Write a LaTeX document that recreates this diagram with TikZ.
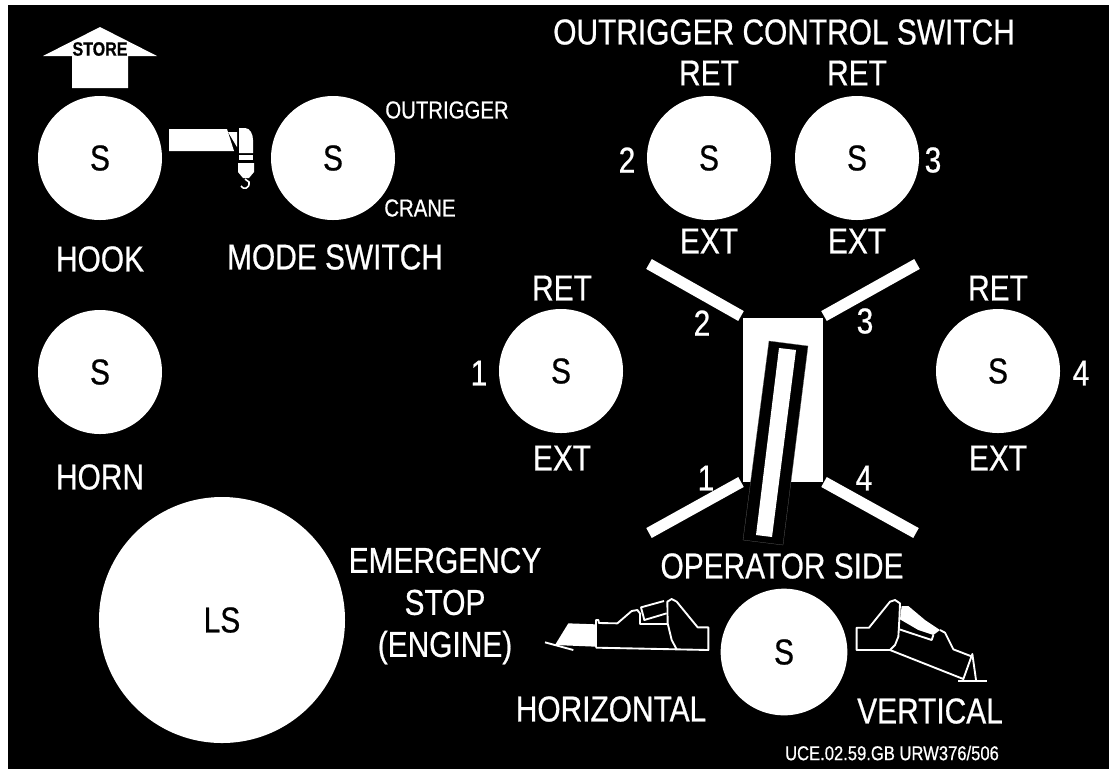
\documentclass[tikz,border=0pt]{standalone}
\usepackage{fontspec}
\setmainfont[FakeStretch=0.83,FakeBold=0.6]{Liberation Sans}
\def\knobsize{93pt}

\begin{document}
\begin{tikzpicture}[x=0.75pt,y=-0.75pt]
  \tikzstyle{knob}=[circle,fill=white,text=black,minimum size=\knobsize,inner sep=0pt,font=\fontsize{27}{30}\selectfont]
  \tikzstyle{lbl}=[text=white,inner sep=0pt,font=\fontsize{27}{31.5}\selectfont,align=center]
  \tikzstyle{smalllbl}=[text=white,inner sep=0pt,font=\fontsize{18.4}{22}\selectfont]
  \tikzstyle{bar}=[draw=white,line width=8.5pt]
  \tikzstyle{outline}=[draw=white,line width=1.4pt,line join=round]

  \useasboundingbox (0,0) rectangle (1109,769);
  \fill[white] (0,0) rectangle (1109,769);
  \fill[black] (8,5) rectangle (1109,769);

  \foreach \name / \x / \y in {hook/100/158,mode/333/158,out2/709/158,out3/857/158,out1/561/371,out4/998/371,horn/100/372}
    \node[knob] (\name) at (\x,\y) {S};
  \node[knob,minimum size=184.5pt] (stop) at (222,620) {LS};
  \node[knob,minimum size=95pt] (jib) at (784,652) {S};

  \foreach \name / \x in {out2/709,out3/857}{
    \node[lbl] (ret-\name) at (\x,73) {RET};
    \node[lbl] (ext-\name) at (\x,241) {EXT};
  }
  \foreach \name / \x in {out1/562,out4/998}{
    \node[lbl] (ret-\name) at (\x,288) {RET};
    \node[lbl] (ext-\name) at (\x,458) {EXT};
  }
  \node[lbl] (num-2) at (627,160) {2};
  \node[lbl] (num-3) at (933,160) {3};
  \node[lbl] (num-1) at (479,373) {1};
  \node[lbl] (num-4) at (1081,373) {4};

  \node[lbl] (title) at (784,32) {OUTRIGGER CONTROL SWITCH};
  \node[lbl] (hook-lbl) at (100,259) {HOOK};
  \node[lbl] (mode-lbl) at (335,257) {MODE SWITCH};
  \node[lbl] (horn-lbl) at (100,477) {HORN};
  \node[lbl] (side-lbl) at (782,566) {OPERATOR SIDE};
  \node[lbl] (stop-lbl) at (445,606) {EMERGENCY\\STOP\\(ENGINE)};
  \node[lbl] (horiz-lbl) at (611,709) {HORIZONTAL};
  \node[lbl] (vert-lbl) at (930,711) {VERTICAL};
  \node[smalllbl] (outrigger-lbl) at (447,110) {OUTRIGGER};
  \node[smalllbl] (crane-lbl) at (420,208) {CRANE};
  \node[smalllbl,font=\fontsize{15}{18}\selectfont] (code-lbl) at (892,753) {UCE.02.59.GB URW376/506};

  \fill[white] (100,27) -- (157,56) -- (128,56) -- (128,88) -- (72,88) -- (72,56) -- (43,56) -- cycle;
  \node[text=black,inner sep=0pt,font=\bfseries\fontsize{14.5}{16}\selectfont] (store) at (100,49) {STORE};

  \fill[white] (169,129) -- (227,129) -- (234,151) -- (169,151) -- cycle;
  \fill[white] (228,132) -- (237,132) -- (237,147) -- cycle;
  \fill[white] (239,128) -- (245,128) .. controls (250,128) and (253,134) .. (253,140) -- (253,153) -- (239,153) -- cycle;
  \fill[white] (239,155) rectangle (253,160);
  \fill[white] (238,163) -- (254,163) -- (254,172) -- (249,178) -- (243,178) -- (238,172) -- cycle;
  \draw[white,line width=1.2pt] (245,179) -- (249,182) .. controls (250,189) and (243,190) .. (241,186);

  \draw[bar] (649,264) -- (741,316);
  \draw[bar] (917,264) -- (824,316);
  \draw[bar] (649,533) -- (741,482);
  \draw[bar] (916,533) -- (824,482);
  \node[lbl] (bar-2) at (702,323) {2};
  \node[lbl] (bar-3) at (865,321) {3};
  \node[lbl] (bar-1) at (706,478) {1};
  \node[lbl] (bar-4) at (864,478) {4};

  \fill[white] (743,318) rectangle (823,482);
  \filldraw[fill=black,draw=black!60,line width=0.2pt] (769,341) -- (808,346) -- (783,545) -- (743,540) -- cycle;
  \fill[white] (779,348) -- (796,350) -- (772,537) -- (756,535) -- cycle;

  \begin{scope}[shift={(530,580)},x=0.25pt,y=-0.25pt]
    \fill[white] (115,130) -- (198,133) -- (198,200) -- (75,195) -- cycle;
    \draw[outline] (45,187) -- (130,210);
    \draw[outline] (198,203) -- (198,120) -- (205,120) -- (207,129) -- (262,130) -- (305,93) -- (322,90) -- (332,103);
    \draw[outline] (198,203) -- (440,208) -- (535,210) -- (535,142) -- (503,142) -- (440,65) -- (425,57) -- (412,65) -- (413,130) -- (425,180) -- (440,208);
    \draw[outline] (330,100) -- (330,132) -- (413,132);
    \draw[outline] (402,63) -- (333,82) -- (343,120) -- (410,100);
  \end{scope}

  \begin{scope}[shift={(840,580)},x=0.25pt,y=-0.25pt]
    \fill[white] (185,78) -- (205,78) -- (255,120) -- (300,150) -- (280,165) -- (235,150) -- (180,118) -- cycle;
    \draw[outline] (50,143) -- (87,143) -- (150,65) -- (165,60) -- (180,70) -- (178,118) -- (175,170) -- (165,195) -- (150,210) -- (50,210) -- cycle;
    \draw[outline] (150,210) -- (370,297) -- (397,222) -- (408,300);
    \draw[outline] (178,148) -- (275,180) -- (280,165);
    \draw[outline] (300,150) -- (315,158) -- (340,208) -- (397,230);
    \draw[outline] (355,303) -- (440,303);
  \end{scope}
\end{tikzpicture}
\end{document}
